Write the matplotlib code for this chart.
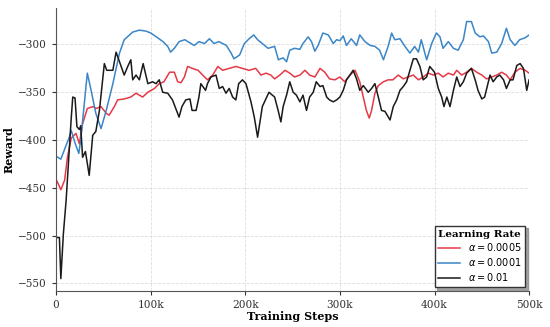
import numpy as np
import matplotlib.pyplot as plt

# training steps (k) and rewards
steps_blue = [0, 5, 10, 14, 16, 20, 24, 26, 33, 37, 42, 47.5, 53, 60, 67, 72, 81, 88, 95, 100,
              106, 113, 118, 121, 125, 130, 136, 141, 146, 151, 157, 162, 167, 172, 180, 185, 188,
              194, 199, 204, 209, 213, 218, 224, 231, 235, 240, 243.6, 247, 252, 257.7, 261, 266.5,
              270, 273.5, 277, 282, 287.7, 293, 296.5, 300, 303.5, 307, 312, 317.6, 321, 326.5, 332,
              337, 342, 346, 351, 354.7, 358, 363.5, 368.8, 374, 379, 383, 386, 391.7, 397, 402,
              405.8, 409, 414.6, 420, 425, 430.5, 434, 439, 443, 448, 451.7, 457, 460.5, 465.8, 471,
              476, 480, 485, 490, 495.8, 500]
reward_blue = [-417, -420, -407, -397, -390, -403, -414, -400, -330, -348, -372, -388, -369, -341,
               -309, -295, -287, -285, -286, -288, -292, -297, -302, -308, -304, -297, -295, -298,
               -301, -297, -299, -294, -299, -297, -301, -309, -315, -311, -299, -294, -290, -295,
               -299, -304, -302, -316, -314, -318, -306, -304, -305, -299, -292, -297, -307, -301,
               -288, -290, -299, -295, -296, -291, -301, -294, -301, -290, -297, -301, -302, -306,
               -316, -302, -288, -295, -294, -302, -309, -302, -308, -295, -316, -299, -288, -292,
               -304, -297, -304, -306, -295, -276, -276, -288, -292, -291, -297, -309, -308, -299,
               -283, -295, -301, -295, -293, -290]

steps_red = [0, 5, 9, 12, 16, 21, 24.6, 28, 33, 39, 42, 47.5, 53, 56, 61.6, 65, 72, 79, 84.5, 91.5,
             97, 104, 109, 114, 120, 125, 128.5, 132, 135.6, 139, 144, 150, 155, 160, 165.5, 171,
             176, 183, 190, 197, 204, 211, 216.5, 222, 227, 231, 236.5, 242, 247, 252, 257.7, 263,
             268, 273.5, 279, 284, 289, 294.7, 300, 305, 310.6, 316, 321, 324.7, 328, 331, 333.5,
             337, 340.6, 346, 351, 356, 361.7, 367, 372, 377.6, 383, 388, 393.5, 398.8, 404, 409,
             414.6, 420, 423.5, 428.7, 434, 439, 444.6, 450, 455, 460.5, 465.8, 471, 476, 480, 485,
             490.5, 495.8, 500]
reward_red = [-441, -452, -442, -418, -398, -393, -404, -383, -367, -365, -367, -365, -372, -374,
              -365, -358, -357, -355, -351, -355, -350, -346, -341, -339, -329, -329, -339, -340,
              -334, -323, -325, -327, -332, -337, -332, -323, -327, -325, -323, -325, -327, -325,
              -332, -330, -332, -336, -332, -327, -330, -334, -332, -327, -332, -334, -325, -329,
              -336, -337, -334, -339, -332, -327, -339, -355, -369, -377, -369, -351, -343, -339,
              -337, -337, -332, -336, -334, -332, -337, -334, -330, -332, -330, -334, -330, -332,
              -327, -332, -329, -325, -329, -332, -336, -334, -332, -329, -332, -337, -329, -325,
              -327, -330]

steps_black = [0, 3.5, 5, 7.7, 10.6, 16, 17.6, 20, 22, 24.6, 26, 28, 31, 35, 38.7, 42, 45.8, 51,
               53.5, 60, 63.4, 67, 72, 75.7, 79, 81, 84.5, 88, 92, 97, 102, 105.6, 109, 112.7, 118,
               123, 130, 133, 137, 141.5, 143.7, 148, 151, 153, 158, 160, 163.7, 169, 172.5, 176,
               179.6, 183, 186.6, 190, 193, 197, 200.7, 206, 209.5, 213, 218, 225, 231, 234.7,
               237.6, 240, 243.6, 247, 250.6, 254, 257.7, 261, 264.7, 268, 271.8, 275, 279, 282,
               286, 289, 293, 296.5, 300, 303.5, 307, 310.6, 314, 317.6, 321, 324.7, 330, 333.5,
               337, 340.6, 344, 347.6, 353, 356.4, 360, 363.5, 367, 370.5, 374, 377.6, 381, 384.6,
               388, 391.7, 395, 400, 404, 407.6, 410, 413, 416.4, 420, 423.5, 427, 430.5, 434, 439,
               443, 446, 450, 453, 458.7, 462, 465.8, 469, 473, 476, 480, 483, 487, 490.5, 494,
               497.5, 500]
reward_black = [-502, -502, -545, -498, -463, -377, -355, -356, -386, -389, -385, -418, -412, -437,
                -395, -391, -369, -320, -327, -327, -308, -318, -332, -323, -316, -337, -332, -337,
                -320, -341, -339, -341, -337, -350, -351, -358, -376, -365, -358, -357, -369, -369,
                -355, -341, -348, -341, -334, -332, -346, -344, -351, -346, -355, -358, -341, -337,
                -341, -360, -376, -397, -365, -350, -355, -369, -381, -365, -353, -339, -350, -353,
                -360, -353, -369, -355, -350, -339, -344, -343, -355, -358, -360, -358, -355, -348,
                -337, -332, -327, -336, -348, -343, -350, -346, -341, -355, -369, -370, -379, -365,
                -358, -348, -344, -339, -327, -315, -315, -323, -337, -334, -323, -329, -346, -355,
                -365, -355, -365, -348, -334, -344, -339, -330, -325, -337, -348, -357, -355, -332,
                -339, -334, -332, -337, -346, -337, -337, -322, -320, -325, -348, -337]

labels = [r'$\alpha = 0.0005$', r'$\alpha = 0.0001$', r'$\alpha = 0.01$']

plt.rcParams['font.family'] = 'DejaVu Serif'

fig = plt.figure(figsize=(5.5, 3.27), dpi=100)
ax = fig.add_axes([0.102, 0.11, 0.86, 0.865])

ax.plot(np.array(steps_red) * 1000, reward_red, color='#e63946', lw=1.1, label=labels[0])
ax.plot(np.array(steps_blue) * 1000, reward_blue, color='#3a86c8', lw=1.1, label=labels[1])
ax.plot(np.array(steps_black) * 1000, reward_black, color='#1a1a1a', lw=1.1, label=labels[2])

ax.set_xlim(0, 500000)
ax.set_ylim(-558, -262)
ax.set_xticks([0, 100000, 200000, 300000, 400000, 500000])
ax.set_xticklabels(['0', '100k', '200k', '300k', '400k', '500k'])
ax.set_yticks([-550, -500, -450, -400, -350, -300])
ax.tick_params(labelsize=7.6, colors='#333333', length=3)
ax.set_xlabel('Training Steps', fontsize=8, fontweight='bold', labelpad=1)
ax.set_ylabel('Reward', fontsize=8, fontweight='bold')
ax.yaxis.set_label_coords(-0.088, 0.5)

ax.grid(True, ls='--', lw=0.6, color='#dddddd')
for s in ['top', 'right']:
    ax.spines[s].set_visible(False)
for s in ['left', 'bottom']:
    ax.spines[s].set_color('#555555')

leg = ax.legend(title='Learning Rate', loc='lower right', fontsize=7, fancybox=False,
                shadow={'ox': 2, 'oy': -2, 'color': 'gray', 'alpha': 0.7},
                edgecolor='#333333', framealpha=1, borderpad=0.4,
                handlelength=2.2, labelspacing=0.3, borderaxespad=0.4)
leg.get_title().set_fontweight('bold')
leg.get_title().set_fontsize(7.5)

fig.savefig('out.png', dpi=100)
